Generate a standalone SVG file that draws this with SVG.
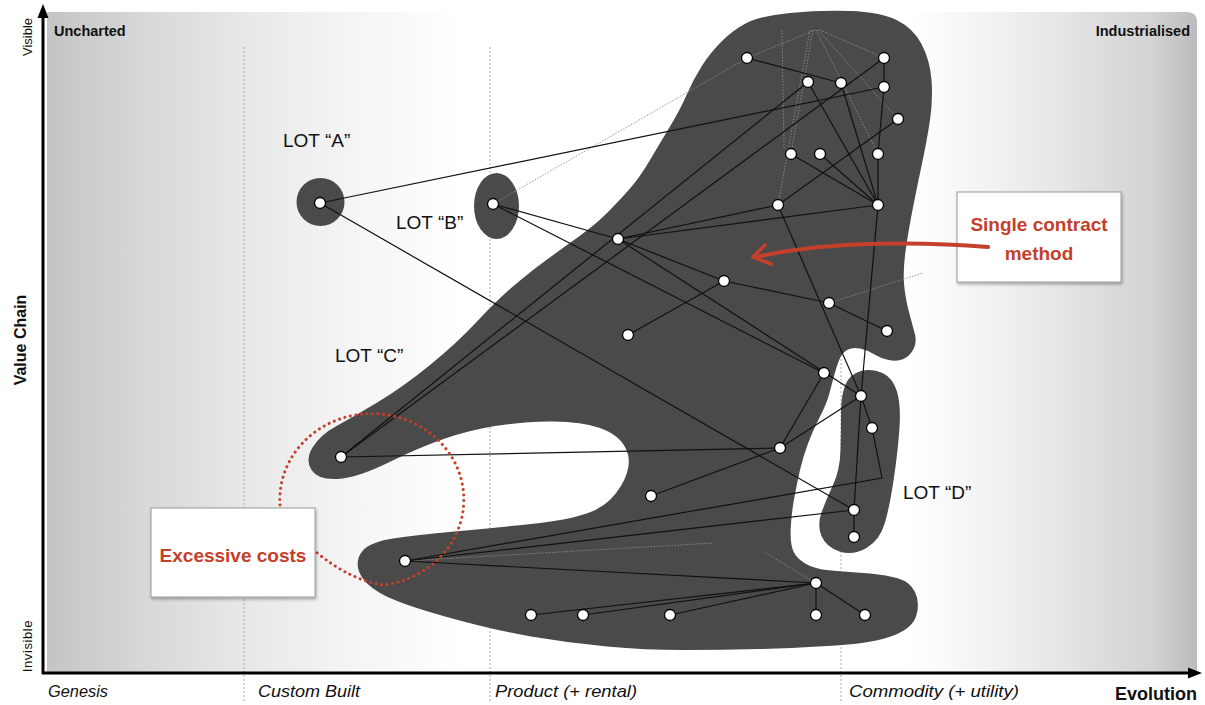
<svg xmlns="http://www.w3.org/2000/svg" width="1205" height="705" viewBox="0 0 1205 705">
<style>
text{font-family:"Liberation Sans",Arial,sans-serif;fill:#111}
.lot{font-size:19px}
.stage{font-size:17px;font-style:italic}
.corner{font-size:14.5px;font-weight:bold}
.sep{stroke:#a8a8a8;stroke-width:1;stroke-dasharray:2 2;fill:none}
.blob{fill:#4a4a4a}
.e{stroke:#111;stroke-width:1.2;fill:none}
.faint{stroke:#8c8c8c;stroke-width:0.9;stroke-dasharray:1.5 1.5;fill:none}
.node{fill:#fff;stroke:#000;stroke-width:1.3}
.red{fill:#c4402a;font-size:19px;font-weight:bold}
.box{fill:#fff;stroke:#9a9a9a;stroke-width:1}
</style>
<defs>
<linearGradient id="bg" x1="0" y1="0" x2="1" y2="0">
<stop offset="0" stop-color="#c4c4c4"/>
<stop offset="0.09" stop-color="#d9d9d9"/>
<stop offset="0.18" stop-color="#e9e9e9"/>
<stop offset="0.27" stop-color="#f5f5f5"/>
<stop offset="0.36" stop-color="#ffffff"/>
<stop offset="0.75" stop-color="#ffffff"/>
<stop offset="0.80" stop-color="#f6f6f6"/>
<stop offset="0.88" stop-color="#e6e6e6"/>
<stop offset="0.96" stop-color="#d3d3d3"/>
<stop offset="1" stop-color="#bcbcbc"/>
</linearGradient>
<filter id="sh" x="-10%" y="-10%" width="130%" height="130%">
<feDropShadow dx="1" dy="2" stdDeviation="1.5" flood-color="#000" flood-opacity="0.3"/>
</filter>
</defs>

<g id="background">
<rect x="0" y="0" width="1205" height="705" fill="#fff"/>
<path d="M47,12 H1187 Q1197,12 1197,22 V673 H47 Z" fill="url(#bg)"/>
</g>

<g id="stages">
<line class="sep" x1="244" y1="47" x2="244" y2="703"/>
<line class="sep" x1="490" y1="47" x2="490" y2="703"/>
<line class="sep" x1="841" y1="47" x2="841" y2="703"/>
</g>

<g id="lots">
<g id="lot-main">
<path class="blob" d="M721.5,41.5 Q733,30 746.5,23 Q760,16 790,13 Q820,10 850,11 Q880,12 896.5,20 Q913,28 921.5,44 Q930,60 931.5,80 Q933,100 930,120 Q927,140 922,163.5 Q917,187 912.5,210 Q908,233 905.5,251.5 Q903,270 904,283.5 Q905,297 909,312 Q913,327 915,334.5 Q917,342 913.5,349 Q910,356 903.5,359 Q897,362 888.5,360 Q880,358 873.5,354 Q867,350 860,348.5 Q853,347 848,349.5 Q843,352 840.5,357 Q838,362 835,372.5 Q832,383 829.5,393 Q827,403 820,416.5 Q813,430 808,443.5 Q803,457 800,470 Q797,483 794.5,496.5 Q792,510 791,523.5 Q790,537 791.5,545 Q793,553 798,558 Q803,563 811.5,566.5 Q820,570 836.5,571 Q853,572 870,573.5 Q887,575 898.5,578.5 Q910,582 915,592 Q920,602 916.5,615 Q913,628 893.5,635.5 Q874,643 836,645.5 Q798,648 760,649 Q722,650 683.5,650 Q645,650 607,646.5 Q569,643 531,636.5 Q493,630 445,616.5 Q397,603 380,593 Q363,583 359,571.5 Q355,560 362.5,551 Q370,542 393,538.5 Q416,535 454.5,531.5 Q493,528 531,524 Q569,520 589.5,512.5 Q610,505 621.5,485 Q633,465 626.5,450 Q620,435 600,428 Q580,421 550,421.5 Q520,422 495,426 Q470,430 445,438.5 Q420,447 388.5,462.5 Q357,478 337.5,479 Q318,480 311.5,470 Q305,460 312.5,447.5 Q320,435 336.5,426 Q353,417 378,402 Q403,387 430,365 Q457,343 477,321.5 Q497,300 513.5,286 Q530,272 545,261 Q560,250 577.5,237.5 Q595,225 607.5,212.5 Q620,200 630,188.5 Q640,177 650,160 Q660,143 670,126.5 Q680,110 686.5,95 Q693,80 701.5,66.5 Q710,53 721.5,41.5 Z"/>
</g>
<g id="lot-a-blob"><circle class="blob" cx="320.5" cy="202" r="24"/></g>
<g id="lot-b-blob"><ellipse class="blob" cx="496.5" cy="206" rx="22.5" ry="33"/></g>
<g id="lot-d-blob">
<path class="blob" d="M861,371 Q872,368 882.5,373 Q893,378 897,391.5 Q901,405 899.5,427.5 Q898,450 894,477.5 Q890,505 885,522.5 Q880,540 866.5,548 Q853,556 839.5,551.5 Q826,547 821.5,536 Q817,525 821.5,512.5 Q826,500 833,485 Q840,470 840.5,450 Q841,430 841,412.5 Q841,395 845.5,384.5 Q850,374 861,371 Z"/>
</g>
</g>

<g id="connectors">
<g id="faint-links">
<line class="faint" x1="493" y1="204" x2="747" y2="58"/>
<line class="faint" x1="815" y1="30" x2="747" y2="58"/>
<line class="faint" x1="813" y1="30" x2="791" y2="154"/>
<line class="faint" x1="810" y1="30" x2="778" y2="205"/>
<line class="faint" x1="782" y1="30" x2="784" y2="148"/>
<line class="faint" x1="816" y1="30" x2="878" y2="154"/>
<line class="faint" x1="818" y1="30" x2="898" y2="119"/>
<line class="faint" x1="820" y1="30" x2="884" y2="58"/>
<line class="faint" x1="829" y1="303" x2="923" y2="273"/>
<line class="faint" x1="405" y1="561" x2="714" y2="543"/>
<line class="faint" x1="816" y1="583" x2="764" y2="552"/>
</g>
<g id="links">
<line class="e" x1="747" y1="58" x2="841" y2="83"/>
<line class="e" x1="808" y1="82" x2="341" y2="457"/>
<line class="e" x1="808" y1="82" x2="878" y2="205"/>
<line class="e" x1="841" y1="83" x2="878" y2="205"/>
<line class="e" x1="884" y1="58" x2="341" y2="457"/>
<line class="e" x1="884" y1="58" x2="884" y2="87"/>
<line class="e" x1="884" y1="87" x2="320" y2="203"/>
<line class="e" x1="884" y1="87" x2="878" y2="154"/>
<line class="e" x1="878" y1="154" x2="878" y2="205"/>
<line class="e" x1="898" y1="119" x2="778" y2="205"/>
<line class="e" x1="791" y1="154" x2="878" y2="205"/>
<line class="e" x1="820" y1="154" x2="878" y2="205"/>
<line class="e" x1="618" y1="239" x2="778" y2="205"/>
<line class="e" x1="618" y1="239" x2="878" y2="205"/>
<line class="e" x1="778" y1="205" x2="861" y2="396"/>
<line class="e" x1="878" y1="205" x2="861" y2="396"/>
<line class="e" x1="618" y1="239" x2="724" y2="281"/>
<line class="e" x1="724" y1="281" x2="829" y2="303"/>
<line class="e" x1="829" y1="303" x2="887" y2="331"/>
<line class="e" x1="724" y1="281" x2="628" y2="335"/>
<line class="e" x1="618" y1="239" x2="861" y2="396"/>
<line class="e" x1="493" y1="204" x2="618" y2="239"/>
<line class="e" x1="493" y1="204" x2="824" y2="373"/>
<line class="e" x1="320" y1="203" x2="854" y2="510"/>
<line class="e" x1="824" y1="373" x2="780" y2="448"/>
<line class="e" x1="861" y1="396" x2="780" y2="448"/>
<line class="e" x1="780" y1="448" x2="651" y2="496"/>
<line class="e" x1="341" y1="457" x2="780" y2="448"/>
<line class="e" x1="861" y1="396" x2="854" y2="510"/>
<line class="e" x1="861" y1="396" x2="872" y2="428"/>
<polyline class="e" points="872,428 882,478 405,561"/>
<line class="e" x1="854" y1="510" x2="405" y2="561"/>
<line class="e" x1="854" y1="510" x2="854" y2="537"/>
<line class="e" x1="405" y1="561" x2="816" y2="583"/>
<line class="e" x1="816" y1="583" x2="531" y2="615"/>
<line class="e" x1="816" y1="583" x2="583" y2="615"/>
<line class="e" x1="816" y1="583" x2="670" y2="615"/>
<line class="e" x1="816" y1="583" x2="816" y2="615"/>
<line class="e" x1="816" y1="583" x2="865" y2="615"/>
</g>
</g>

<g id="nodes">
<g id="node-a"><circle class="node" cx="320" cy="203" r="5.5"/></g>
<g id="node-b"><circle class="node" cx="493" cy="204" r="5.5"/></g>
<g id="node-c"><circle class="node" cx="341" cy="457" r="5.5"/></g>
<g id="node-e"><circle class="node" cx="405" cy="561" r="5.5"/></g>
<g id="node-f"><circle class="node" cx="816" cy="583" r="5.5"/></g>
<g id="node-n1"><circle class="node" cx="747" cy="58" r="5.5"/></g>
<g id="node-n2"><circle class="node" cx="808" cy="82" r="5.5"/></g>
<g id="node-n3"><circle class="node" cx="841" cy="83" r="5.5"/></g>
<g id="node-n4"><circle class="node" cx="884" cy="58" r="5.5"/></g>
<g id="node-n5"><circle class="node" cx="884" cy="87" r="5.5"/></g>
<g id="node-n6"><circle class="node" cx="898" cy="119" r="5.5"/></g>
<g id="node-n7"><circle class="node" cx="791" cy="154" r="5.5"/></g>
<g id="node-n8"><circle class="node" cx="820" cy="154" r="5.5"/></g>
<g id="node-n9"><circle class="node" cx="878" cy="154" r="5.5"/></g>
<g id="node-n10"><circle class="node" cx="778" cy="205" r="5.5"/></g>
<g id="node-n11"><circle class="node" cx="878" cy="205" r="5.5"/></g>
<g id="node-n12"><circle class="node" cx="618" cy="239" r="5.5"/></g>
<g id="node-n13"><circle class="node" cx="724" cy="281" r="5.5"/></g>
<g id="node-n14"><circle class="node" cx="829" cy="303" r="5.5"/></g>
<g id="node-n15"><circle class="node" cx="887" cy="331" r="5.5"/></g>
<g id="node-n16"><circle class="node" cx="628" cy="335" r="5.5"/></g>
<g id="node-n17"><circle class="node" cx="824" cy="373" r="5.5"/></g>
<g id="node-n18"><circle class="node" cx="861" cy="396" r="5.5"/></g>
<g id="node-n19"><circle class="node" cx="872" cy="428" r="5.5"/></g>
<g id="node-n20"><circle class="node" cx="780" cy="448" r="5.5"/></g>
<g id="node-n21"><circle class="node" cx="651" cy="496" r="5.5"/></g>
<g id="node-n22"><circle class="node" cx="854" cy="510" r="5.5"/></g>
<g id="node-n23"><circle class="node" cx="854" cy="537" r="5.5"/></g>
<g id="node-b1"><circle class="node" cx="531" cy="615" r="5.5"/></g>
<g id="node-b2"><circle class="node" cx="583" cy="615" r="5.5"/></g>
<g id="node-b3"><circle class="node" cx="670" cy="615" r="5.5"/></g>
<g id="node-b4"><circle class="node" cx="816" cy="615" r="5.5"/></g>
<g id="node-b5"><circle class="node" cx="865" cy="615" r="5.5"/></g>
</g>

<g id="lot-labels">
<text class="lot" x="283" y="147">LOT “A”</text>
<text class="lot" x="396" y="229">LOT “B”</text>
<text class="lot" x="335" y="362">LOT “C”</text>
<text class="lot" x="903" y="499">LOT “D”</text>
</g>

<g id="axes">
<line x1="43" y1="674" x2="43" y2="16" stroke="#000" stroke-width="3"/>
<polygon points="43,4 37.5,18 48.5,18" fill="#000"/>
<line x1="42" y1="673" x2="1190" y2="673" stroke="#000" stroke-width="3"/>
<polygon points="1202,673 1188,667.5 1188,678.5" fill="#000"/>
<text transform="translate(32,37) rotate(-90)" text-anchor="middle" font-size="13">Visible</text>
<text transform="translate(32,646) rotate(-90)" text-anchor="middle" font-size="13" letter-spacing="0.6">Invisible</text>
<text transform="translate(26,340) rotate(-90)" text-anchor="middle" font-size="16" font-weight="bold">Value Chain</text>
<text class="corner" x="54" y="36">Uncharted</text>
<text class="corner" x="1190" y="36" text-anchor="end">Industrialised</text>
<text class="stage" x="48" y="697" textLength="60" lengthAdjust="spacingAndGlyphs">Genesis</text>
<text class="stage" x="258" y="697" textLength="102" lengthAdjust="spacingAndGlyphs">Custom Built</text>
<text class="stage" x="495" y="697" textLength="142" lengthAdjust="spacingAndGlyphs">Product (+ rental)</text>
<text class="stage" x="849" y="697" textLength="170" lengthAdjust="spacingAndGlyphs">Commodity (+ utility)</text>
<text x="1115" y="700" font-size="18" font-weight="bold">Evolution</text>
</g>

<g id="callout-single">
<rect class="box" x="957" y="192" width="164" height="90" filter="url(#sh)"/>
<text class="red" x="1039" y="231" text-anchor="middle">Single contract</text>
<text class="red" x="1039" y="260" text-anchor="middle">method</text>
<path d="M988,247 C930,242 830,240 756,257" fill="none" stroke="#c4402a" stroke-width="4" stroke-linecap="round"/>
<path d="M765,245 L753,257 L771,264" fill="none" stroke="#c4402a" stroke-width="3.5" stroke-linecap="round" stroke-linejoin="round"/>
</g>

<g id="callout-excessive">
<path d="M280,505 A92,86 0 1 1 383,585 Q350,580 316,552" fill="none" stroke="#c4402a" stroke-width="3" stroke-dasharray="0.1 5.5" stroke-linecap="round"/>
<rect class="box" x="151" y="508" width="164" height="89" filter="url(#sh)"/>
<text class="red" x="233" y="562" text-anchor="middle">Excessive costs</text>
</g>
</svg>
